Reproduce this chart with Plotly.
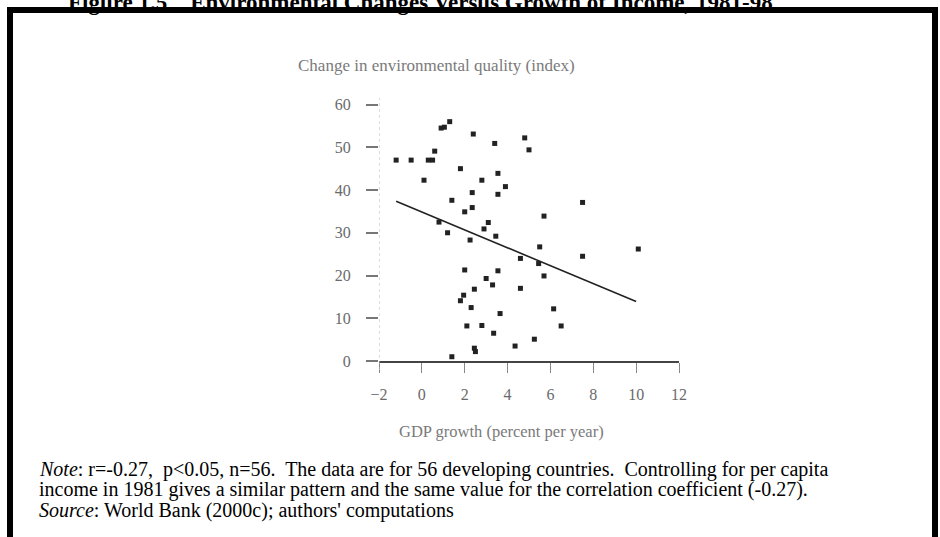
import plotly.graph_objects as go

# ---- data ----
gdp_growth = [-1.2, -0.5, 0.3, 0.5, 0.1, 0.6, 0.9, 1.05, 1.3, 1.8,
              2.4, 2.8, 2.35, 3.4, 3.55, 3.9, 3.55, 4.8, 5.0, 1.4,
              7.5, 2.35, 2.0, 3.1, 2.9, 3.45, 0.8, 1.2, 2.25, 5.7,
              5.5, 10.1, 4.6, 7.5, 5.45, 2.0, 3.55, 3.0, 3.3, 5.7,
              2.45, 4.6, 1.95, 1.8, 2.3, 3.65, 6.15, 2.1, 2.8, 3.35,
              6.5, 5.25, 4.35, 2.45, 2.5, 1.4]
env_change = [47.0, 47.0, 47.0, 47.0, 42.3, 49.1, 54.5, 54.7, 56.0, 45.0,
              53.1, 42.3, 39.4, 50.9, 43.9, 40.8, 39.0, 52.2, 49.4, 37.6,
              37.1, 35.9, 34.9, 32.4, 30.9, 29.2, 32.5, 30.0, 28.3, 33.9,
              26.7, 26.2, 24.0, 24.5, 22.8, 21.3, 21.1, 19.3, 17.8, 19.9,
              16.8, 17.0, 15.4, 14.1, 12.5, 11.1, 12.2, 8.2, 8.3, 6.5,
              8.2, 5.1, 3.5, 3.0, 2.2, 1.0]
trend_x = [-1.2, 10.0]
trend_y = [37.4, 13.9]
x_ticks = [-2, 0, 2, 4, 6, 8, 10, 12]
y_ticks = [0, 10, 20, 30, 40, 50, 60]

title_text = "Figure 1.5\u00a0\u00a0\u00a0\u00a0Environmental Changes Versus Growth of Income, 1981-98"
y_title = "Change in environmental quality (index)"
x_title = "GDP growth (percent per year)"
note_lines = [
    "<i>Note</i>: r=-0.27,\u00a0 p&lt;0.05, n=56.\u00a0 The data are for 56 developing countries.\u00a0 Controlling for per capita",
    "income in 1981 gives a similar pattern and the same value for the correlation coefficient (-0.27).",
    "<i>Source</i>: World Bank (2000c); authors' computations",
]

# ---- layout geometry (pixels) ----
FW, FH = 940, 537
L, R, T, B = 379, 261, 96, 176
W, H = FW - L - R, FH - T - B


def px(xp):
    return (xp - L) / W


def py(yp):
    return (T + H - yp) / H


SERIF = "Liberation Serif, Times New Roman, serif"

fig = go.Figure()
fig.add_trace(go.Scatter(
    x=gdp_growth, y=env_change, mode="markers",
    marker=dict(symbol="square", size=5, color="#222222"),
    showlegend=False, hoverinfo="x+y"))
fig.add_trace(go.Scatter(
    x=trend_x, y=trend_y, mode="lines",
    line=dict(color="#222222", width=1.6),
    showlegend=False, hoverinfo="skip"))

annotations = [
    dict(text=f"<b>{title_text}</b>", x=px(66), y=py(17), xref="paper", yref="paper",
         xanchor="left", yanchor="bottom", showarrow=False,
         font=dict(family=SERIF, size=23, color="#000000")),
    dict(text=y_title, x=px(436), y=py(65), xref="paper", yref="paper",
         xanchor="center", yanchor="middle", showarrow=False,
         font=dict(family=SERIF, size=17, color="#7a7a7a")),
    dict(text=x_title, x=px(501), y=py(431), xref="paper", yref="paper",
         xanchor="center", yanchor="middle", showarrow=False,
         font=dict(family=SERIF, size=16.5, color="#7a7a7a")),
]
for i, line in enumerate(note_lines):
    annotations.append(dict(
        text=line, x=px(37), y=py(469 + 20.5 * i), xref="paper", yref="paper",
        xanchor="left", yanchor="middle", showarrow=False,
        font=dict(family=SERIF, size=20, color="#000000")))

shapes = [
    # outer frame
    dict(type="rect", xref="paper", yref="paper",
         x0=px(10), x1=px(935), y0=py(545), y1=py(10),
         line=dict(color="#000000", width=6), fillcolor="rgba(0,0,0,0)", layer="below"),
    # dotted y axis
    dict(type="line", xref="x", yref="paper", x0=-2, x1=-2, y0=py(370), y1=py(98),
         line=dict(color="#bbbbbb", width=1, dash="dot")),
]

fig.update_layout(
    width=FW, height=FH,
    margin=dict(l=L, r=R, t=T, b=B),
    paper_bgcolor="white", plot_bgcolor="white",
    annotations=annotations, shapes=shapes,
    xaxis=dict(range=[-2, 12], tickvals=x_ticks, ticktext=[str(v).replace("-", "\u2212") for v in x_ticks],
               showgrid=False, zeroline=False, showline=True, linecolor="#444444", linewidth=1.5,
               ticks="outside", ticklen=10, tickwidth=1.2, tickcolor="#888888",
               ticklabelstandoff=8,
               tickfont=dict(family=SERIF, size=16, color="#6a6a6a")),
    yaxis=dict(range=[0, 62], tickvals=y_ticks, showgrid=False, zeroline=False, showline=False,
               ticks="outside", ticklen=12, tickwidth=1.5, tickcolor="#777777",
               ticklabelstandoff=12,
               tickfont=dict(family=SERIF, size=16, color="#6a6a6a")),
)

fig.write_html("out.html")
